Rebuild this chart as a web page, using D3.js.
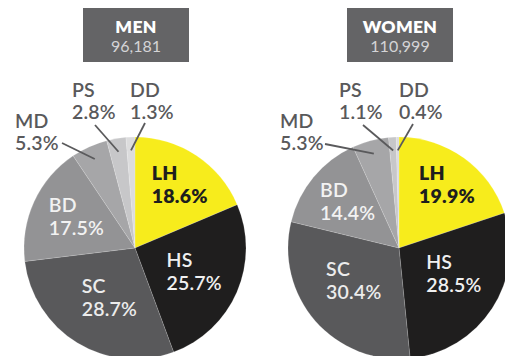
<!DOCTYPE html>
<html>
<head>
<meta charset="utf-8">
<script src="https://cdn.jsdelivr.net/npm/d3@7"></script>
<style>
  html, body { margin: 0; padding: 0; background: #fff; }
  svg { display: block; font-family: Lato, "Open Sans", sans-serif; }
</style>
</head>
<body>
<svg id="chart" width="505" height="356"></svg>
<script>
// Education level categories, in clockwise order from 12 o'clock
const categories = ["LH", "HS", "SC", "BD", "MD", "PS", "DD"];
const menShares = [18.6, 25.7, 28.7, 17.5, 5.3, 2.8, 1.3];
const womenShares = [19.9, 28.5, 30.4, 14.4, 5.3, 1.1, 0.4];
const groupTitles = ["MEN", "WOMEN"];
const groupTotals = ["96,181", "110,999"];

const fillColor = d3.scaleOrdinal()
  .domain(categories)
  .range(["#f7ec1c", "#1f1e1e", "#59595b", "#939395", "#a6a6a8", "#c7c7c9", "#dcdcdd"]);
const innerTextColor = d3.scaleOrdinal()
  .domain(categories)
  .range(["#1e1e1e", "#f0f0f0", "#ececec", "#f2f2f2", "#fff", "#fff", "#fff"]);

// Small slices get their label outside the pie, with a leader line
const outsideKeys = ["MD", "PS", "DD"];

const svg = d3.select("#chart");
const radius = 111;
const fmtPct = v => d3.format(".1f")(v) + "%";

const pies = [
  { title: groupTitles[0], total: groupTotals[0], shares: menShares, cx: 135, cy: 248,
    // hand-tuned offsets of inside labels from the slice centroid
    nudge: { LH: [8, -3], HS: [-2, 2], SC: [9, -3], BD: [2, 1] },
    outside: { MD: [15, 128, 62, 143], PS: [72, 97, 95, 125], DD: [130, 97, 145, 123] } },
  { title: groupTitles[1], total: groupTotals[1], shares: womenShares, cx: 399, cy: 248,
    nudge: { LH: [9, -5], HS: [-1, -6], SC: [5, -7], BD: [0, 0] },
    outside: { MD: [280, 128, 325, 144], PS: [339, 97, 363, 125], DD: [399, 97, 413, 124] } }
];

const pie = d3.pie().sort(null).value(d => d.value);
const arc = d3.arc().innerRadius(0).outerRadius(radius);
const labelArc = d3.arc().innerRadius(radius * 0.6).outerRadius(radius * 0.6);
const leaderArc = d3.arc().innerRadius(radius * 0.88).outerRadius(radius * 0.88);

pies.forEach(p => {
  const data = categories.map((c, i) => ({ key: c, value: p.shares[i] }));
  const arcs = pie(data);

  // Header box with group name and count
  const head = svg.append("g").attr("transform", `translate(${p.cx + 1},0)`);
  head.append("rect")
    .attr("x", -53).attr("y", 8).attr("width", 106).attr("height", 54)
    .attr("fill", "#646466");
  head.append("text")
    .attr("y", 33).attr("text-anchor", "middle")
    .attr("fill", "#fff").attr("font-weight", 800).attr("font-size", 17.5)
    .attr("letter-spacing", 0.3)
    .text(p.title);
  head.append("text")
    .attr("y", 52).attr("text-anchor", "middle")
    .attr("fill", "#d4d4d6").attr("font-size", 16)
    .text(p.total);

  const g = svg.append("g").attr("transform", `translate(${p.cx},${p.cy})`);

  g.selectAll("path.slice")
    .data(arcs)
    .join("path")
    .attr("class", "slice")
    .attr("d", arc)
    .attr("fill", d => fillColor(d.data.key))
    .attr("stroke", "rgba(255,255,255,0.25)")
    .attr("stroke-width", 0.6);

  // Labels inside the larger slices: left-aligned block centred near the slice centroid
  const inner = g.selectAll("text.inner")
    .data(arcs.filter(d => !outsideKeys.includes(d.data.key)))
    .join("text")
    .attr("class", "inner")
    .attr("fill", d => innerTextColor(d.data.key))
    .attr("font-weight", d => d.data.key === "LH" ? 800 : 600)
    .attr("font-size", 19.5)
    .attr("letter-spacing", 0.2);
  inner.each(function(d) {
    const t = d3.select(this);
    const [ox, oy] = p.nudge[d.data.key] || [0, 0];
    const [c0, c1] = labelArc.centroid(d);
    const cx = c0 + ox, cy = c1 + oy;
    const pct = t.append("tspan").attr("y", cy + 14).text(fmtPct(d.data.value));
    const w = pct.node().getComputedTextLength();
    pct.attr("x", cx - w / 2);
    t.insert("tspan", "tspan").attr("x", cx - w / 2).attr("y", cy - 9).text(d.data.key);
  });

  // Labels outside the small slices, joined by leader lines
  arcs.filter(d => outsideKeys.includes(d.data.key)).forEach(d => {
    const [tx, ty, ex, ey] = p.outside[d.data.key];
    const [ax, ay] = leaderArc.centroid(d);
    svg.append("line")
      .attr("x1", ex).attr("y1", ey)
      .attr("x2", p.cx + ax).attr("y2", p.cy + ay)
      .attr("stroke", "#5a5a5c").attr("stroke-width", 1.8);
    const t = svg.append("text")
      .attr("fill", "#59595b").attr("font-weight", 600).attr("font-size", 19.5)
      .attr("letter-spacing", 0.2);
    t.append("tspan").attr("x", tx).attr("y", ty).text(d.data.key);
    t.append("tspan").attr("x", tx).attr("y", ty + 22).text(fmtPct(d.data.value));
  });
});
</script>
</body>
</html>
